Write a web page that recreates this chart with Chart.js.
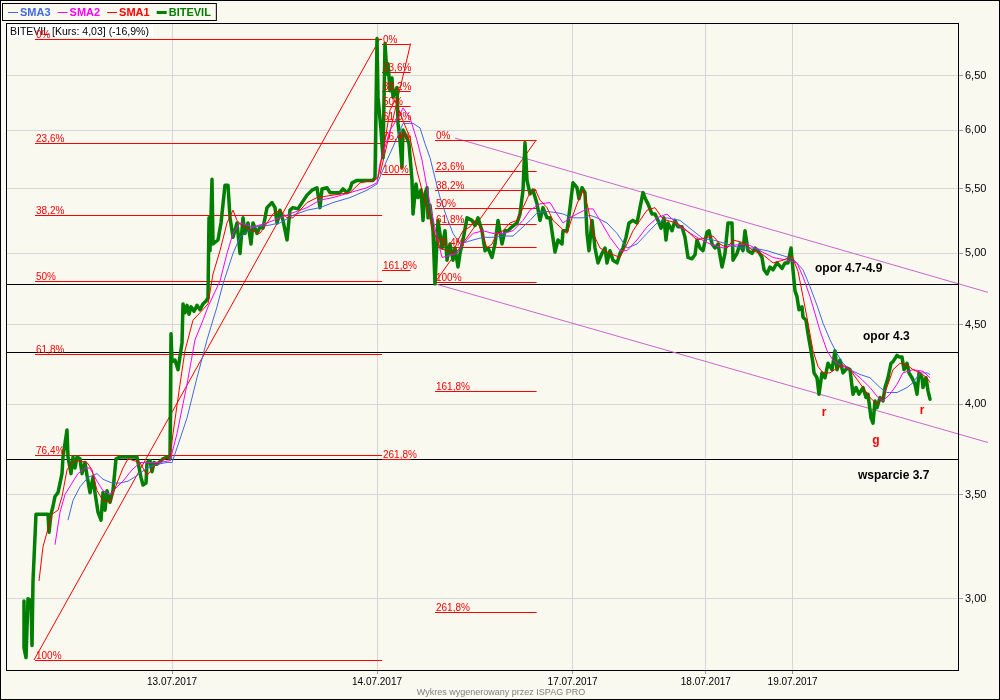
<!DOCTYPE html>
<html>
<head>
<meta charset="utf-8">
<title>BITEVIL</title>
<script src="https://cdn.jsdelivr.net/npm/chart.js@4.4.0/dist/chart.umd.min.js"></script>
<style>
  html, body { margin: 0; padding: 0; background: #F9F9EF; }
  #chart { display: block; }
</style>
</head>
<body>
<canvas id="chart" width="1000" height="700"></canvas>
<script>
// czas = numer kolejnej sesji (oś x), wartosci w PLN
const dateTicks = [83, 185.5, 283.3, 349.9, 393.3];
const dateLabels = ['13.07.2017', '14.07.2017', '17.07.2017', '18.07.2017', '19.07.2017'];
const priceTicks = [3, 3.5, 4, 4.5, 5, 5.5, 6, 6.5];

// kurs BITEVIL [czas, kurs]
const bitevil = [
  [9,2.99],[9,2.79],[10,2.75],[11,3.00],[12.5,2.99],[13,2.80],[13.5,3.08],[15,3.40],[21,3.40],[21.5,3.31],
  [22.5,3.40],[23.5,3.44],[24.5,3.49],[26,3.51],[28,3.61],[28.5,3.70],[30.5,3.85],[31,3.70],[32.5,3.61],[33.5,3.70],
  [34.5,3.64],[35.5,3.70],[37,3.69],[38,3.61],[39.5,3.67],[40.5,3.60],[42,3.51],[43.5,3.59],[44.5,3.51],[46,3.41],
  [47.5,3.37],[48.5,3.51],[49.5,3.42],[50.5,3.52],[52,3.46],[53.5,3.52],[55,3.69],[57,3.70],[65.5,3.70],[66,3.67],
  [67.5,3.59],[68.5,3.55],[70,3.56],[70.5,3.67],[72,3.68],[73,3.62],[74,3.67],[75.5,3.66],[76.5,3.67],[78.5,3.69],
  [80.5,3.70],[82,3.69],[82.5,4.44],[83,4.26],[84.5,4.27],[86,4.21],[88,4.38],[88.5,4.64],[89.5,4.58],[90.5,4.63],
  [91.5,4.57],[92.5,4.62],[94,4.59],[95.5,4.63],[97,4.60],[98.5,4.64],[100,4.66],[101,4.68],[101.5,5.27],[102,5.02],
  [103,5.58],[103.5,5.07],[106,5.10],[107.5,5.23],[109.5,5.53],[111,5.53],[112,5.27],[113.5,5.12],[115.5,5.23],[117,5.00],
  [118.5,5.27],[119.5,5.15],[121,5.23],[122.5,5.07],[123.5,5.23],[125.5,5.15],[127,5.20],[128.5,5.19],[130.5,5.35],[133,5.39],
  [134.5,5.35],[135.5,5.23],[137,5.33],[138.5,5.25],[140.5,5.10],[142,5.33],[143.5,5.35],[146,5.34],[148,5.39],[150.5,5.45],
  [153,5.49],[155.5,5.51],[157,5.35],[158,5.50],[160.5,5.51],[162,5.47],[167,5.47],[168.5,5.50],[170.5,5.47],[172,5.50],
  [173,5.55],[175.5,5.57],[183.5,5.57],[184.5,5.59],[185.5,6.87],[186,6.30],[187.5,6.00],[188.5,5.76],[189.5,6.82],[190.5,6.52],
  [191,6.62],[192,6.36],[193,6.48],[193.5,6.30],[195.5,6.39],[196,6.06],[197,5.91],[198,5.68],[198.5,6.00],[200.5,5.93],
  [201.5,5.88],[203,5.57],[203.5,5.30],[205,5.54],[206,5.43],[207.5,5.49],[208.5,5.25],[209.5,5.46],[210.5,5.51],[211,5.27],
  [212,5.37],[213.5,5.17],[214.5,4.78],[216,5.25],[218,5.04],[219.5,5.17],[220.5,4.95],[222,5.07],[223.5,4.95],[224.5,5.04],
  [226,4.90],[227,5.00],[228.5,5.10],[230.5,5.27],[233,5.25],[234.5,5.21],[236,5.27],[238,5.17],[239.5,5.02],[241,5.04],
  [243,4.97],[244.5,5.07],[246,5.25],[248,5.07],[249.5,5.17],[251,5.17],[253,5.20],[255.5,5.23],[257,5.30],[258.5,5.49],
  [259.5,5.89],[260.5,5.57],[262,5.46],[263.5,5.49],[265.5,5.38],[267,5.25],[268.5,5.35],[270.5,5.27],[272,5.27],[274.5,5.01],
  [276,5.10],[278,5.07],[278.5,5.17],[280.5,5.17],[282,5.35],[283.5,5.55],[285.5,5.51],[286.5,5.42],[288,5.51],[289.5,5.47],
  [290.5,5.15],[291.5,5.02],[293,5.25],[294.5,5.04],[296,4.93],[298,5.00],[299.5,5.04],[300.5,4.93],[302,5.02],[303.5,4.95],
  [305.5,4.93],[307,5.00],[308.5,5.04],[310,5.12],[311.5,5.23],[313.5,5.25],[315.5,5.23],[317,5.35],[318.5,5.47],[320,5.41],
  [321,5.38],[323,5.30],[324.5,5.30],[326,5.25],[327.5,5.19],[329,5.27],[330,5.10],[331,5.23],[333,5.17],[334.5,5.25],
  [336,5.20],[338,5.20],[339.5,5.12],[341,4.97],[343,4.96],[344.5,4.99],[345.5,5.10],[347,5.04],[348.5,5.02],[350.5,5.16],
  [351.5,5.17],[353,5.07],[354.5,5.04],[356,5.07],[358,4.90],[359.5,5.00],[361,5.23],[363,5.23],[363.5,4.95],[365.5,5.00],
  [367,5.07],[368.5,5.02],[369.5,5.17],[371,5.02],[373,5.00],[374.5,5.04],[376,5.02],[378,4.97],[379,4.88],[380.5,4.85],
  [382,4.90],[383.5,4.88],[385.5,4.93],[388,4.89],[389.5,4.93],[391,4.93],[392.5,5.04],[393.5,4.88],[394.5,4.73],[395.5,4.69],
  [396.5,4.60],[398,4.62],[398.5,4.55],[400,4.53],[401,4.44],[402.5,4.33],[403.5,4.25],[404,4.19],[405.5,4.16],[406.5,4.06],
  [408,4.19],[409.5,4.16],[411,4.25],[413,4.21],[414.5,4.33],[415.5,4.21],[417,4.27],[418.5,4.19],[420.5,4.22],[422,4.21],
  [423.5,4.06],[425,4.10],[426.5,4.06],[428.5,4.10],[430,4.04],[431,4.06],[432.5,3.92],[433.5,3.89],[434.5,4.02],[435.5,3.98],
  [437,4.04],[438.5,4.02],[439.5,4.10],[441,4.16],[442.5,4.25],[443.5,4.26],[445.5,4.30],[446.5,4.29],[448,4.29],[449,4.21],
  [450.5,4.25],[451.5,4.19],[453,4.16],[454.5,4.12],[455.5,4.06],[456.5,4.19],[458,4.16],[458.5,4.10],[460,4.16],[461,4.08],
  [462,4.03]
];

// srednie kroczace
const sma1 = [
  [16.5,3.08],[18.5,3.24],[23,3.40],[26,3.42],[28,3.49],[30.5,3.63],[33,3.67],[35.5,3.68],[40.5,3.67],[43,3.63],
  [45.5,3.52],[48.5,3.47],[52,3.46],[55.5,3.56],[58.5,3.64],[61,3.69],[67,3.67],[70.5,3.60],[73.5,3.64],[77,3.68],
  [82,3.70],[83.5,3.83],[87,4.12],[89.5,4.33],[93.5,4.53],[97,4.58],[101,4.64],[103.5,4.85],[107,5.02],[110.5,5.23],
  [113.5,5.33],[115.5,5.25],[118.5,5.20],[123.5,5.17],[127,5.15],[130.5,5.23],[133.5,5.30],[137,5.33],[140.5,5.27],[143.5,5.27],
  [147,5.33],[150.5,5.39],[155.5,5.43],[163.5,5.45],[172,5.47],[177,5.55],[183.5,5.57],[186,5.59],[189.5,5.91],[192,6.18],
  [194.5,6.27],[202,5.93],[205.5,5.65],[208,5.49],[210.5,5.35],[213,5.20],[217,5.04],[220.5,5.02],[223.5,5.00],[226,5.10],
  [228.5,5.17],[232,5.20],[234.5,5.25],[237,5.20],[240.5,5.04],[243,5.07],[245.5,5.15],[248.5,5.17],[252,5.23],[255.5,5.25],
  [258.5,5.35],[262,5.47],[264.5,5.50],[267,5.41],[270.5,5.35],[273.5,5.25],[277,5.20],[280.5,5.15],[283,5.27],[285.5,5.38],
  [288.5,5.49],[291,5.35],[293.5,5.15],[297,5.04],[302,5.00],[307,4.97],[310.5,5.07],[313.5,5.17],[317,5.25],[320.5,5.33],
  [324.5,5.35],[328,5.27],[330.5,5.25],[335.5,5.23],[340.5,5.17],[345.5,5.10],[350.5,5.12],[353.5,5.13],[357,5.07],[360.5,5.04],
  [363.5,5.10],[368.5,5.08],[373.5,5.02],[378.5,4.99],[383.5,4.93],[388.5,4.95],[393,4.98],[396,4.87],[398.5,4.69],[401,4.51],
  [403.5,4.33],[406,4.23],[408.5,4.19],[412,4.19],[415.5,4.22],[418.5,4.24],[422,4.21],[425.5,4.15],[428.5,4.10],[432,4.04],
  [435.5,4.00],[438.5,4.04],[441,4.12],[443.5,4.21],[447,4.25],[450.5,4.24],[453.5,4.21],[457,4.19],[460.5,4.16],[462,4.13]
];

const sma2 = [
  [24.5,3.25],[27,3.41],[29.5,3.50],[33,3.56],[36,3.61],[39.5,3.64],[42,3.64],[45.5,3.57],[48.5,3.52],[52,3.50],
  [55.5,3.54],[58.5,3.57],[63,3.63],[67,3.67],[72,3.67],[77,3.67],[82,3.68],[85.5,3.83],[90.5,4.12],[94.5,4.40],
  [98.5,4.53],[101,4.62],[107,4.80],[110.5,5.00],[113.5,5.15],[117,5.23],[123.5,5.20],[130.5,5.23],[137,5.27],[143.5,5.31],
  [150.5,5.35],[157,5.41],[163.5,5.43],[172,5.47],[180.5,5.51],[185.5,5.55],[187,5.71],[192,6.00],[196,6.11],[198.5,6.20],
  [202,6.11],[205.5,5.91],[208,5.74],[210.5,5.51],[213,5.30],[215.5,5.12],[218,4.97],[225.5,5.00],[228.5,5.07],[233.5,5.15],
  [238.5,5.17],[243.5,5.15],[248.5,5.15],[253.5,5.17],[258.5,5.25],[262,5.33],[267,5.38],[272,5.39],[275.5,5.30],[278.5,5.23],
  [282,5.27],[285.5,5.30],[290.5,5.34],[293.5,5.34],[297,5.25],[302,5.12],[307,5.02],[310.5,5.02],[315.5,5.10],[320.5,5.20],
  [325.5,5.27],[330.5,5.30],[337,5.20],[345.5,5.12],[352,5.07],[358.5,5.04],[363.5,5.06],[370.5,5.07],[377,5.02],[383.5,4.97],
  [390.5,4.95],[395.5,4.93],[398.5,4.83],[402,4.69],[403.5,4.62],[407,4.46],[410.5,4.33],[413.5,4.27],[417,4.24],[422,4.21],
  [427,4.16],[432,4.10],[436,4.04],[438.5,4.02],[442,4.06],[445.5,4.12],[448.5,4.19],[453.5,4.21],[458.5,4.20],[462,4.16]
];

const sma3 = [
  [31,3.37],[33.5,3.47],[37,3.54],[41,3.59],[45.5,3.61],[48.5,3.58],[53,3.56],[57,3.56],[61,3.57],[65.5,3.60],
  [70.5,3.64],[75.5,3.66],[80.5,3.67],[83,3.67],[85.5,3.75],[90.5,3.92],[95.5,4.16],[100.5,4.40],[105.5,4.62],[108.5,4.78],
  [113.5,5.00],[117,5.12],[123.5,5.20],[130.5,5.21],[137,5.23],[143.5,5.29],[150.5,5.33],[157,5.35],[163.5,5.39],[172,5.43],
  [180.5,5.49],[185.5,5.54],[190.5,5.74],[195.5,5.93],[198.5,6.06],[203.5,6.06],[207,6.02],[209.5,5.88],[212,5.76],[214.5,5.59],
  [217,5.43],[220.5,5.27],[223.5,5.15],[227,5.07],[233.5,5.10],[238.5,5.12],[243.5,5.12],[248.5,5.13],[253.5,5.13],[258.5,5.20],
  [262,5.25],[265.5,5.31],[270.5,5.32],[275.5,5.31],[278.5,5.30],[283.5,5.27],[288.5,5.27],[292,5.29],[295.5,5.27],[300.5,5.23],
  [305.5,5.15],[310.5,5.04],[315.5,5.07],[320.5,5.15],[325.5,5.23],[330.5,5.27],[337,5.25],[343.5,5.17],[348.5,5.11],[353.5,5.10],
  [360.5,5.07],[367,5.04],[373.5,5.04],[380.5,5.02],[387,4.99],[393.5,4.96],[398.5,4.88],[402,4.76],[405.5,4.63],[408.5,4.51],
  [412,4.40],[415.5,4.31],[418.5,4.25],[422,4.21],[427,4.18],[432,4.16],[437,4.10],[440.5,4.07],[445.5,4.07],[450.5,4.10],
  [453.5,4.13],[457,4.19],[460.5,4.19],[462,4.18]
];

// zniesienia Fibonacciego
const fibLabels = ['0%', '23,6%', '38,2%', '50%', '61,8%', '76,4%', '100%'];
const extLabels = ['161,8%', '261,8%'];

const fibA = [6.87, 5.89, 5.29, 4.80, 4.31, 3.71, 2.74];
const fibASpan = [14.5, 188];
const fibATrend = [[14, 2.74], [187, 6.87]];

const fibB = [6.82, 6.54, 6.36, 6.22, 6.08, 5.90, 5.62];
const fibBExt = [4.88, 3.69];
const fibBSpan = [188, 202.3];
const fibBTrend = [[187, 5.62], [202.3, 6.82]];

const fibC = [5.91, 5.65, 5.49, 5.35, 5.22, 5.05, 4.79];
const fibCExt = [4.08, 2.94];
const fibCSpan = [214.5, 265.3];
const fibCTrend = [[214.5, 4.79], [265, 5.91]];

// kanal spadkowy i poziomy
const channelTop = [[224.5, 5.93], [491, 4.72]];
const channelBottom = [[214.5, 4.78], [491, 3.78]];
const levels = [4.78, 4.32, 3.69];

const notes = [['opor 4.7-4.9', 404.5, 4.89], ['opor 4.3', 428.5, 4.42], ['wsparcie 3.7', 426, 3.60]];
const marks = [['r', 409, 3.95], ['g', 435, 3.79], ['r', 458, 3.96]];

const FONT = '"Liberation Sans", Arial, sans-serif';
const BG = '#F9F9EF';

function pts(list) {
  return list.map(p => ({ x: p[0], y: p[1] }));
}

function xy(chart, t, v) {
  return [chart.scales.x.getPixelForValue(t), chart.scales.y.getPixelForValue(v)];
}

function line(ctx, a, b, color, w) {
  ctx.save();
  ctx.strokeStyle = color;
  ctx.lineWidth = w || 1;
  ctx.beginPath();
  ctx.moveTo(a[0], a[1]);
  ctx.lineTo(b[0], b[1]);
  ctx.stroke();
  ctx.restore();
}

function hline(ctx, x1, x2, y, color) {
  const yy = Math.round(y) + 0.5;
  line(ctx, [x1, yy], [x2, yy], color, 1);
}

function fibLines(chart, lv, span, trend, ext) {
  const ctx = chart.ctx;
  const all = lv.concat(ext || []);
  all.forEach(v => {
    const a = xy(chart, span[0], v);
    const b = xy(chart, span[1], v);
    hline(ctx, a[0], b[0], a[1], '#FF0000');
  });
  line(ctx, xy(chart, trend[0][0], trend[0][1]), xy(chart, trend[1][0], trend[1][1]), '#FF0000', 1);
}

function fibText(chart, lv, span, ext) {
  const ctx = chart.ctx;
  ctx.save();
  ctx.fillStyle = '#FF0000';
  ctx.font = '10px ' + FONT;
  ctx.textAlign = 'left';
  ctx.textBaseline = 'alphabetic';
  lv.forEach((v, i) => {
    const p = xy(chart, span[0], v);
    ctx.fillText(fibLabels[i], p[0] + 1, Math.round(p[1]) - 1);
  });
  (ext || []).forEach((v, i) => {
    const p = xy(chart, span[0], v);
    ctx.fillText(extLabels[i], p[0] + 1, Math.round(p[1]) - 1);
  });
  ctx.restore();
}

const overlay = {
  id: 'overlay',
  beforeDraw(chart) {
    const ctx = chart.ctx;
    ctx.save();
    ctx.fillStyle = BG;
    ctx.fillRect(0, 0, chart.width, chart.height);
    ctx.restore();
  },
  beforeDatasetsDraw(chart) {
    const ctx = chart.ctx;
    const area = chart.chartArea;

    // tytul
    ctx.save();
    ctx.font = '10.5px ' + FONT;
    const title = 'BITEVIL [Kurs: 4,03] (-16,9%)';
    const tw = ctx.measureText(title).width;
    ctx.fillStyle = '#FFFFFF';
    ctx.fillRect(area.left + 2, area.top + 2, tw + 6, 13);
    ctx.fillStyle = '#000000';
    ctx.textBaseline = 'middle';
    ctx.fillText(title, area.left + 4, area.top + 9);
    ctx.restore();

    levels.forEach(v => {
      const y = chart.scales.y.getPixelForValue(v);
      hline(ctx, area.left, area.right, y, '#000000');
    });

    [channelTop, channelBottom].forEach(c => {
      line(ctx, xy(chart, c[0][0], c[0][1]), xy(chart, c[1][0], c[1][1]), '#CC66CC', 1);
    });

    fibLines(chart, fibA, fibASpan, fibATrend);
    fibLines(chart, fibB, fibBSpan, fibBTrend, fibBExt);
    fibLines(chart, fibC, fibCSpan, fibCTrend, fibCExt);
  },
  afterDatasetsDraw(chart) {
    const ctx = chart.ctx;
    fibText(chart, fibA, fibASpan);
    fibText(chart, fibB, fibBSpan, fibBExt);
    fibText(chart, fibC, fibCSpan, fibCExt);

    ctx.save();
    ctx.font = 'bold 12px ' + FONT;
    ctx.textBaseline = 'middle';
    ctx.fillStyle = '#000000';
    ctx.textAlign = 'left';
    notes.forEach(n => {
      const p = xy(chart, n[1], n[2]);
      ctx.fillText(n[0], p[0], p[1]);
    });
    ctx.fillStyle = '#FF0000';
    ctx.textAlign = 'center';
    marks.forEach(m => {
      const p = xy(chart, m[1], m[2]);
      ctx.fillText(m[0], p[0], p[1]);
    });
    ctx.restore();
  },
  afterDraw(chart) {
    const ctx = chart.ctx;
    const area = chart.chartArea;
    ctx.save();
    ctx.strokeStyle = '#000000';
    ctx.lineWidth = 1;
    ctx.strokeRect(Math.round(area.left) + 0.5, Math.round(area.top) + 0.5,
      Math.round(area.right - area.left), Math.round(area.bottom - area.top));
    ctx.strokeRect(0.5, 0.5, chart.width - 1, chart.height - 1);

    // legenda
    const items = [
      ['SMA3', '#4169E1', 1],
      ['SMA2', '#FF00FF', 1],
      ['SMA1', '#FF0000', 1],
      ['BITEVIL', '#007F00', 3]
    ];
    ctx.font = 'bold 11px ' + FONT;
    ctx.textBaseline = 'middle';
    let x = 8;
    items.forEach(it => {
      line(ctx, [x, 12.5], [x + 10, 12.5], it[1], it[2]);
      x += 12;
      ctx.fillStyle = it[1];
      ctx.fillText(it[0], x, 12.5);
      x += ctx.measureText(it[0]).width + 7;
    });
    ctx.strokeStyle = '#000000';
    ctx.strokeRect(2.5, 3.5, x - 4, 17);

    ctx.font = '9px ' + FONT;
    ctx.fillStyle = '#808080';
    ctx.textAlign = 'center';
    ctx.fillText('Wykres wygenerowany przez ISPAG PRO', 501, 693);
    ctx.restore();
  }
};

new Chart(document.getElementById('chart'), {
  type: 'line',
  data: {
    datasets: [
      { label: 'SMA1', data: pts(sma1), borderColor: '#FF0000', borderWidth: 1 },
      { label: 'SMA2', data: pts(sma2), borderColor: '#FF00FF', borderWidth: 1 },
      { label: 'SMA3', data: pts(sma3), borderColor: '#4169E1', borderWidth: 1 },
      { label: 'BITEVIL', data: pts(bitevil), borderColor: '#007F00', borderWidth: 3.5,
        borderJoinStyle: 'round', borderCapStyle: 'round' }
    ]
  },
  options: {
    responsive: false,
    animation: false,
    events: [],
    layout: { padding: { left: 6, top: 23, right: 0, bottom: 0 } },
    elements: { point: { radius: 0 }, line: { tension: 0, fill: false } },
    plugins: { legend: { display: false }, tooltip: { enabled: false } },
    scales: {
      x: {
        type: 'linear',
        min: 0,
        max: 476,
        bounds: 'data',
        afterBuildTicks: s => { s.ticks = dateTicks.map(v => ({ value: v })); },
        afterFit: s => { s.height = 30; },
        grid: { color: '#D6D6D6', tickColor: '#9A9A9A', tickLength: 4 },
        border: { display: false },
        ticks: {
          autoSkip: false, maxRotation: 0, padding: 2, color: '#000000',
          font: { family: FONT, size: 10 },
          callback: (v, i) => dateLabels[i]
        }
      },
      y: {
        type: 'logarithmic',
        position: 'right',
        min: 2.70,
        max: 7.03,
        bounds: 'data',
        afterBuildTicks: s => { s.ticks = priceTicks.map(v => ({ value: v })); },
        afterFit: s => { s.width = 42; },
        grid: { color: '#D6D6D6', tickColor: '#9A9A9A', tickLength: 5 },
        border: { display: false },
        ticks: {
          autoSkip: false, padding: 2, color: '#000000',
          font: { family: FONT, size: 11 },
          callback: v => Number(v).toFixed(2).replace('.', ',')
        }
      }
    }
  },
  plugins: [overlay]
});
</script>
</body>
</html>
